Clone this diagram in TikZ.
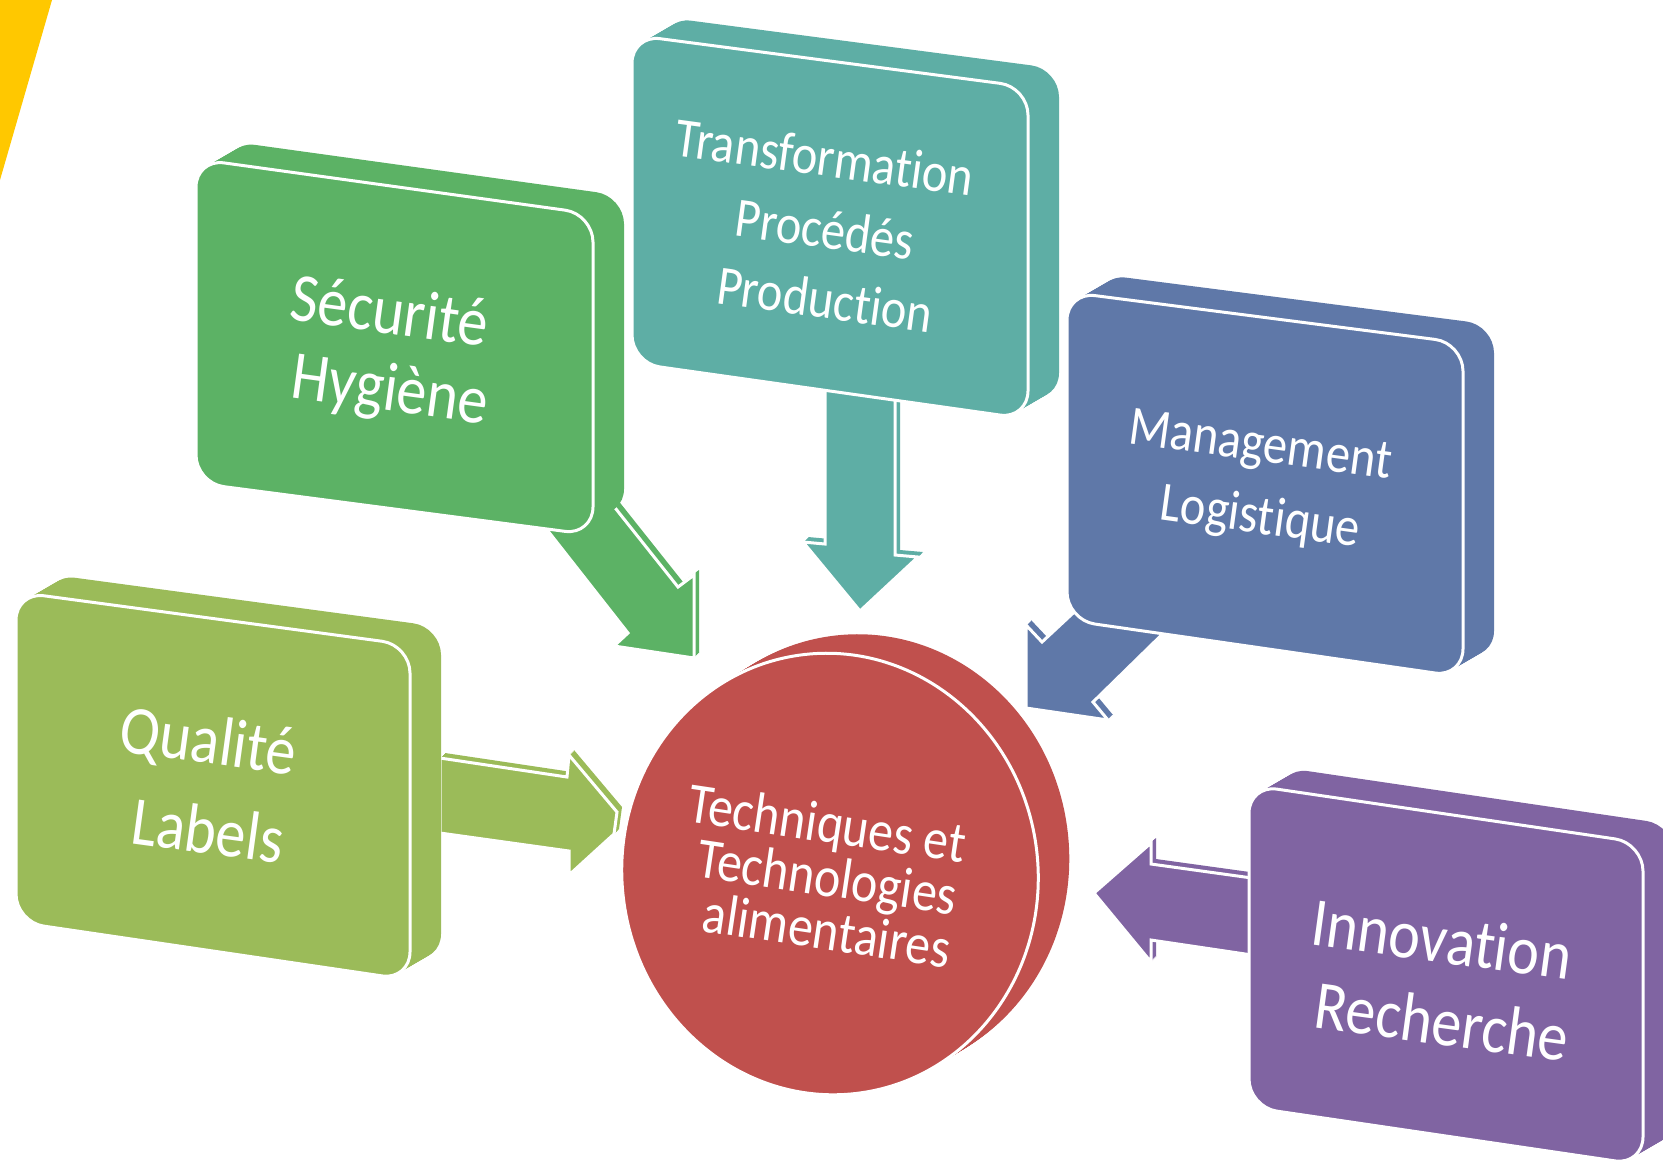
\documentclass[tikz,border=0pt]{standalone}
\usepackage{fontspec}
\setmainfont{Carlito}[Ligatures={NoCommon}]
\usepackage{graphicx}
\definecolor{cqual}{HTML}{9BBB59}
\definecolor{csecu}{HTML}{5CB265}
\definecolor{cteal}{HTML}{5EAEA5}
\definecolor{cblue}{HTML}{5F78A8}
\definecolor{cpurp}{HTML}{8064A2}
\definecolor{cred}{HTML}{C0504D}
\definecolor{cyel}{HTML}{FFC800}
\newcommand\vstretch[1]{\scalebox{1}[1.15]{#1}}
% 3D rounded box: colour, TL, TR, BR, BL of the front face
\newcommand\tdbox[5]{%
  \foreach \t in {20,19,...,1}{%
    \fill[#1,rounded corners=0.28cm,shift={(31*\t/20,-18*\t/20)}] #2 -- #3 -- #4 -- #5 -- cycle;}%
  \filldraw[fill=#1,draw=white,line width=0.3mm,rounded corners=0.28cm] #2 -- #3 -- #4 -- #5 -- cycle;}
% 3D block arrow: colour, front outline
\newcommand\tdarrow[2]{%
  \foreach \t in {5,4,...,1}{\fill[#1,shift={(\t,-\t)}] #2;}%
  \filldraw[fill=#1,draw=white,line width=0.3mm] #2;}
\tikzset{
  bigtxt/.style={text=white,inner sep=0pt,rotate=-7.8,font=\fontsize{17.1}{20}\selectfont},
  midtxt/.style={text=white,inner sep=0pt,rotate=-7.8,font=\fontsize{13.8}{16}\selectfont},
  ctrtxt/.style={text=white,inner sep=0pt,rotate=-8.5,font=\fontsize{14.2}{16}\selectfont},
}
\begin{document}
\begin{tikzpicture}[x=0.01cm,y=-0.01cm]
\clip (0,0) rectangle (1663,1162);
\fill[white] (0,0) rectangle (1663,1162);
% yellow corner
\fill[cyel] (0,0) -- (52,0) -- (0,180) -- cycle;
% central disc
\foreach \t in {20,19,...,1}{%
  \fill[cred,shift={(31*\t/20,-19*\t/20)},rotate around={8:(830,874)}] (830,874) ellipse [x radius=208, y radius=221];}
\filldraw[fill=cred,draw=white,line width=0.3mm,rotate around={8:(830,874)}] (830,874) ellipse [x radius=208, y radius=221];
% arrows
\tdarrow{csecu}{(526,503) -- (628,633) -- (614,646) -- (694,658) -- (694,575) -- (678,587) -- (585,470) -- cycle}
\tdarrow{cteal}{(825,370) -- (825,544) -- (803,542) -- (860,611) -- (918,557) -- (895,555) -- (895,370) -- cycle}
\tdarrow{cblue}{(1100,588) -- (1042,642) -- (1026,625) -- (1026,708) -- (1108,720) -- (1093,702) -- (1185,612) -- cycle}
\tdarrow{cpurp}{(1094,893) -- (1151,843) -- (1151,864) -- (1252,878) -- (1252,955) -- (1151,940) -- (1151,962) -- cycle}
\tdarrow{cqual}{(440,758) -- (567,777) -- (569,755) -- (617,812) -- (614,834) -- (569,875) -- (569,851) -- (440,833) -- cycle}
% boxes
\tdbox{csecu}{(196,159)}{(593,214)}{(593,535)}{(196,483)}
\tdbox{cteal}{(632,35)}{(1028,87)}{(1028,419)}{(632,363)}
\tdbox{cblue}{(1067,292)}{(1463,343)}{(1463,677)}{(1067,620)}
\tdbox{cqual}{(16,592)}{(410,645)}{(410,980)}{(16,922)}
\tdbox{cpurp}{(1249,785)}{(1643,843)}{(1643,1165)}{(1249,1107)}
% texts
\node[bigtxt] (sec1) at (390,310) {\vstretch{Sécurité}};
\node[bigtxt] (sec2) at (390,393) {\vstretch{Hygiène}};
\node[midtxt] (tra1) at (825,157) {\vstretch{Transformation}};
\node[midtxt] (tra2) at (825,229) {\vstretch{Procédés}};
\node[midtxt] (tra3) at (825,299) {\vstretch{Production}};
\node[midtxt] (man1) at (1260,448) {\vstretch{Management}};
\node[midtxt] (man2) at (1260,519) {\vstretch{Logistique}};
\node[bigtxt] (qua1) at (208,744) {\vstretch{Qualité}};
\node[bigtxt] (qua2) at (208,830) {\vstretch{Labels}};
\node[bigtxt] (inn1) at (1442,939) {\vstretch{Innovation}};
\node[bigtxt] (inn2) at (1442,1021) {\vstretch{Recherche}};
\node[ctrtxt] (ctr1) at (827,827) {\vstretch{Techniques et}};
\node[ctrtxt] (ctr2) at (827,881) {\vstretch{Technologies}};
\node[ctrtxt] (ctr3) at (827,930) {\vstretch{alimentaires}};
\end{tikzpicture}
\end{document}
